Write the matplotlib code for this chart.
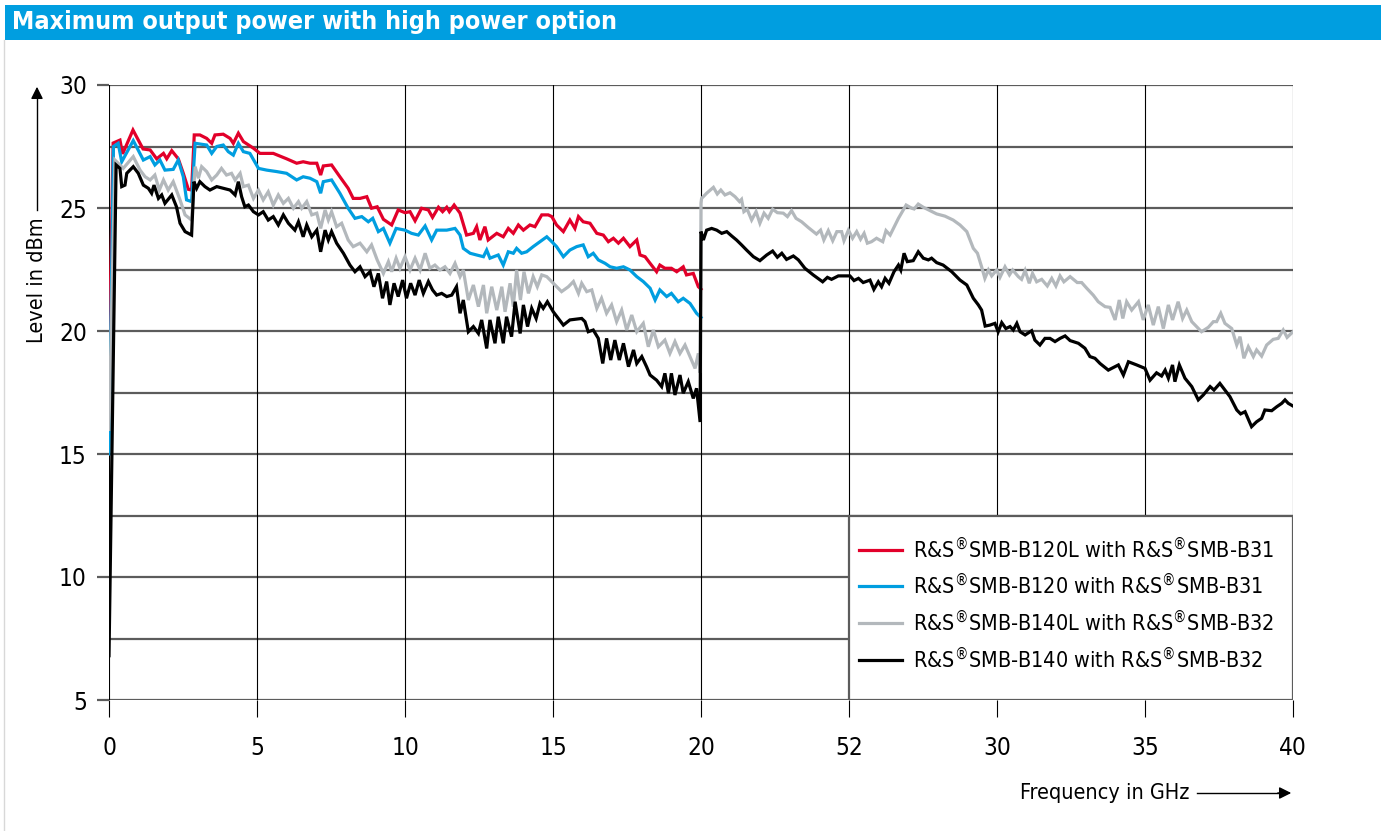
import matplotlib
matplotlib.use("Agg")
import matplotlib.pyplot as plt
from matplotlib.patches import Rectangle
from matplotlib.lines import Line2D

plt.rcParams['font.family'] = ['DejaVu Sans']
plt.rcParams['font.stretch'] = 'condensed'

# Datos: (frecuencia GHz, nivel dBm)
red_b120l = [
    (0.0, 18.5), (0.14, 27.64), (0.37, 27.76), (0.46, 27.2), (0.81, 28.17), (1.15, 27.4), (1.39, 27.36),
    (1.61, 27.0), (1.84, 27.22), (1.95, 27.0), (2.12, 27.33), (2.34, 27.0), (2.51, 26.41), (2.68, 25.76),
    (2.79, 25.73), (2.88, 27.97), (3.07, 27.97), (3.30, 27.83), (3.47, 27.63), (3.58, 27.97), (3.86, 28.0),
    (4.09, 27.83), (4.20, 27.63), (4.37, 28.04), (4.54, 27.7), (4.88, 27.43), (5.10, 27.22), (5.55, 27.22),
    (6.00, 27.0), (6.34, 26.82), (6.56, 26.88), (6.79, 26.82), (7.02, 26.82), (7.15, 26.34), (7.24, 26.71),
    (7.52, 26.75), (7.80, 26.27), (8.08, 25.8), (8.25, 25.39), (8.48, 25.39), (8.71, 25.46), (8.87, 24.99),
    (9.06, 25.05), (9.27, 24.54), (9.55, 24.31), (9.77, 24.92), (10.00, 24.81), (10.17, 24.85), (10.34, 24.48),
    (10.56, 24.99), (10.79, 24.92), (10.93, 24.62), (11.13, 25.03), (11.27, 24.85), (11.41, 25.03),
    (11.50, 24.85), (11.66, 25.12), (11.86, 24.79), (12.08, 23.9), (12.31, 23.97), (12.42, 24.24),
    (12.53, 23.7), (12.70, 24.24), (12.81, 23.7), (13.10, 23.97), (13.32, 23.83), (13.49, 24.17),
    (13.66, 23.97), (13.83, 24.31), (14.00, 24.1), (14.22, 24.31), (14.39, 24.24), (14.62, 24.72),
    (14.84, 24.72), (14.96, 24.65), (15.12, 24.31), (15.35, 24.04), (15.57, 24.51), (15.74, 24.17),
    (15.86, 24.65), (16.02, 24.44), (16.25, 24.38), (16.48, 23.97), (16.70, 23.9), (16.87, 23.63),
    (17.04, 23.77), (17.21, 23.57), (17.38, 23.77), (17.60, 23.43), (17.83, 23.7), (17.94, 23.09),
    (18.11, 23.02), (18.28, 22.75), (18.50, 22.41), (18.61, 22.68), (18.78, 22.55), (19.00, 22.55),
    (19.18, 22.41), (19.40, 22.61), (19.51, 22.28), (19.74, 22.34), (19.91, 21.8), (20.0, 21.7),
]

blue_b120 = [
    (0.0, 15.0), (0.15, 27.5), (0.31, 27.63), (0.43, 26.88), (0.82, 27.74), (1.16, 26.95), (1.39, 27.09),
    (1.55, 26.75), (1.72, 26.95), (1.89, 26.54), (2.17, 26.57), (2.34, 26.95), (2.51, 26.27), (2.62, 25.33),
    (2.79, 25.26), (2.91, 27.63), (3.30, 27.56), (3.47, 27.22), (3.64, 27.5), (3.86, 27.56), (4.03, 27.29),
    (4.20, 27.15), (4.37, 27.63), (4.54, 27.29), (4.76, 27.22), (5.05, 26.61), (5.33, 26.54), (5.67, 26.48),
    (6.00, 26.41), (6.34, 26.14), (6.56, 26.27), (6.79, 26.21), (7.02, 26.07), (7.15, 25.6), (7.24, 26.07),
    (7.52, 26.14), (7.80, 25.6), (8.08, 24.99), (8.31, 24.58), (8.54, 24.65), (8.76, 24.44), (8.91, 24.58),
    (9.10, 24.04), (9.27, 24.17), (9.49, 23.57), (9.70, 24.17), (10.00, 24.1), (10.22, 23.97), (10.45, 23.9),
    (10.68, 24.27), (10.90, 23.7), (11.07, 24.1), (11.41, 24.1), (11.69, 24.17), (11.86, 23.9),
    (11.97, 23.36), (12.20, 23.16), (12.42, 23.09), (12.65, 23.02), (12.76, 23.29), (12.87, 22.96),
    (13.15, 23.09), (13.32, 22.68), (13.49, 23.22), (13.66, 23.16), (13.77, 23.36), (13.94, 23.16),
    (14.11, 23.22), (14.33, 23.43), (14.56, 23.63), (14.79, 23.83), (14.96, 23.63), (15.12, 23.43),
    (15.35, 23.02), (15.57, 23.29), (15.80, 23.43), (16.02, 23.5), (16.19, 23.02), (16.36, 23.16),
    (16.53, 22.89), (16.76, 22.75), (16.93, 22.61), (17.15, 22.55), (17.38, 22.61), (17.60, 22.48),
    (17.83, 22.21), (18.05, 22.01), (18.28, 21.74), (18.45, 21.26), (18.61, 21.67), (18.84, 21.4),
    (19.00, 21.53), (19.23, 21.19), (19.40, 21.33), (19.63, 21.12), (19.85, 20.72), (20.0, 20.55),
]

gray_b140l = [
    (0.0, 16.0), (0.20, 26.95), (0.37, 26.75), (0.48, 26.61), (0.82, 27.09), (1.05, 26.54), (1.22, 26.27),
    (1.39, 26.14), (1.55, 26.34), (1.70, 25.73), (1.84, 26.14), (2.00, 25.73), (2.17, 26.07), (2.40, 25.33),
    (2.57, 24.72), (2.79, 24.51), (2.91, 26.68), (3.02, 26.21), (3.13, 26.68), (3.30, 26.48), (3.47, 26.14),
    (3.64, 26.34), (3.80, 26.61), (3.97, 26.34), (4.14, 26.41), (4.26, 26.14), (4.43, 26.41), (4.54, 25.87),
    (4.71, 25.93), (4.88, 25.39), (5.05, 25.73), (5.21, 25.33), (5.38, 25.66), (5.55, 25.12), (5.72, 25.53),
    (5.89, 25.19), (6.06, 25.39), (6.23, 24.99), (6.40, 25.26), (6.51, 24.99), (6.68, 25.26), (6.85, 24.72),
    (7.02, 24.79), (7.15, 24.17), (7.30, 24.92), (7.41, 24.51), (7.52, 24.85), (7.69, 24.24), (7.86, 24.38),
    (8.08, 23.7), (8.25, 23.43), (8.48, 23.57), (8.71, 23.22), (8.87, 23.5), (9.06, 22.89), (9.27, 22.34),
    (9.44, 22.82), (9.55, 22.41), (9.70, 22.96), (9.83, 22.55), (10.00, 23.02), (10.17, 22.48),
    (10.34, 22.96), (10.51, 22.48), (10.68, 23.16), (10.84, 22.55), (11.01, 22.68), (11.18, 22.48),
    (11.35, 22.61), (11.52, 22.34), (11.69, 22.75), (11.86, 22.21), (11.97, 22.48), (12.14, 21.26),
    (12.31, 21.87), (12.48, 20.99), (12.65, 21.87), (12.76, 20.72), (12.93, 21.8), (13.10, 20.85),
    (13.27, 21.8), (13.38, 20.78), (13.55, 21.94), (13.66, 20.99), (13.77, 22.48), (13.90, 21.26),
    (14.02, 22.41), (14.17, 21.53), (14.33, 22.21), (14.47, 21.8), (14.62, 22.28), (14.79, 22.21),
    (15.01, 21.94), (15.29, 21.6), (15.52, 21.8), (15.69, 22.01), (15.86, 21.53), (15.97, 21.94),
    (16.14, 21.6), (16.31, 21.67), (16.48, 20.92), (16.64, 21.33), (16.81, 20.72), (16.98, 21.06),
    (17.15, 20.38), (17.32, 20.85), (17.49, 20.04), (17.66, 20.65), (17.83, 19.97), (18.05, 20.31),
    (18.22, 19.36), (18.39, 20.04), (18.56, 19.36), (18.78, 19.63), (18.95, 19.09), (19.12, 19.57),
    (19.29, 19.09), (19.46, 19.43), (19.63, 18.96), (19.80, 18.48), (19.91, 19.09), (19.97, 18.3),
    (20.0, 25.2), (20.02, 25.39), (20.19, 25.6), (20.42, 25.84), (20.55, 25.57), (20.67, 25.73),
    (20.81, 25.53), (20.98, 25.62), (21.15, 25.46), (21.30, 25.26), (21.37, 25.35), (21.45, 24.85),
    (21.56, 24.95), (21.71, 24.51), (21.86, 24.85), (21.99, 24.38), (22.13, 24.79), (22.27, 24.58),
    (22.42, 24.95), (22.58, 24.81), (22.78, 24.79), (22.92, 24.65), (23.06, 24.89), (23.21, 24.58),
    (23.40, 24.44), (23.62, 24.21), (23.90, 23.94), (24.04, 24.1), (24.15, 23.7), (24.30, 24.08),
    (24.45, 23.67), (24.59, 24.04), (24.75, 24.04), (24.83, 23.67), (24.98, 24.1), (25.12, 23.77),
    (25.26, 24.04), (25.39, 23.73), (25.51, 23.97), (25.62, 23.57), (25.76, 23.63), (25.93, 23.77),
    (26.14, 23.63), (26.25, 24.08), (26.39, 23.9), (26.67, 24.58), (26.93, 25.12), (27.12, 24.99),
    (27.20, 24.96), (27.34, 25.16), (27.51, 25.03), (27.74, 24.89), (27.96, 24.76), (28.24, 24.67),
    (28.52, 24.51), (28.75, 24.31), (28.98, 24.04), (29.20, 23.36), (29.34, 23.16), (29.48, 22.61),
    (29.59, 22.14), (29.71, 22.48), (29.82, 22.24), (29.99, 22.48), (30.10, 22.18), (30.27, 22.61),
    (30.42, 22.28), (30.53, 22.48), (30.72, 22.21), (30.83, 22.1), (30.95, 22.46), (31.09, 21.94),
    (31.20, 22.34), (31.34, 22.0), (31.51, 22.1), (31.70, 21.83), (31.85, 22.14), (31.99, 21.83),
    (32.13, 22.24), (32.26, 22.0), (32.47, 22.21), (32.71, 21.97), (32.86, 21.97), (33.03, 21.74),
    (33.25, 21.46), (33.42, 21.19), (33.65, 20.99), (33.82, 20.96), (33.99, 20.45), (34.13, 21.26),
    (34.25, 20.51), (34.38, 21.19), (34.55, 20.85), (34.78, 21.19), (34.94, 20.45), (35.11, 21.06),
    (35.28, 20.24), (35.45, 20.99), (35.62, 20.1), (35.79, 21.06), (35.93, 20.45), (36.12, 21.19),
    (36.27, 20.51), (36.41, 20.85), (36.58, 20.38), (36.91, 19.97), (37.14, 20.15), (37.31, 20.38),
    (37.42, 20.38), (37.56, 20.72), (37.70, 20.31), (37.93, 20.1), (38.10, 19.43), (38.21, 19.77),
    (38.34, 18.89), (38.49, 19.36), (38.66, 18.96), (38.77, 19.23), (38.94, 18.98), (39.11, 19.43),
    (39.33, 19.66), (39.50, 19.7), (39.67, 20.04), (39.80, 19.74), (40.0, 19.97),
]

black_b140 = [
    (0.0, 6.8), (0.24, 26.75), (0.37, 26.61), (0.43, 25.87), (0.54, 25.93), (0.60, 26.41), (0.82, 26.68),
    (0.99, 26.41), (1.16, 25.93), (1.33, 25.8), (1.44, 25.6), (1.52, 25.93), (1.67, 25.39), (1.78, 25.53),
    (1.89, 25.19), (2.12, 25.53), (2.28, 25.05), (2.40, 24.38), (2.57, 24.04), (2.79, 23.9), (2.87, 26.07),
    (2.96, 25.8), (3.07, 26.07), (3.24, 25.87), (3.41, 25.73), (3.64, 25.87), (3.86, 25.8), (4.09, 25.73),
    (4.26, 25.53), (4.37, 26.07), (4.48, 25.46), (4.59, 25.05), (4.71, 25.12), (4.88, 24.85), (5.05, 24.72),
    (5.21, 24.85), (5.38, 24.51), (5.55, 24.65), (5.72, 24.31), (5.89, 24.72), (6.06, 24.38), (6.28, 24.1),
    (6.40, 24.44), (6.56, 23.83), (6.68, 24.31), (6.85, 23.83), (7.02, 24.1), (7.15, 23.22), (7.30, 24.1),
    (7.41, 23.7), (7.52, 24.04), (7.69, 23.57), (7.92, 23.16), (8.14, 22.68), (8.31, 22.41), (8.48, 22.61),
    (8.65, 22.21), (8.82, 22.41), (8.95, 21.8), (9.10, 22.34), (9.24, 21.33), (9.38, 22.01), (9.49, 21.06),
    (9.63, 21.94), (9.77, 21.4), (9.92, 22.07), (10.05, 21.33), (10.19, 21.94), (10.34, 21.46),
    (10.48, 22.07), (10.62, 21.53), (10.79, 22.01), (10.93, 21.67), (11.07, 21.46), (11.24, 21.53),
    (11.41, 21.4), (11.58, 21.46), (11.74, 21.8), (11.86, 20.72), (11.97, 21.26), (12.14, 19.97),
    (12.31, 20.18), (12.48, 19.9), (12.59, 20.45), (12.76, 19.29), (12.87, 20.45), (13.04, 19.5),
    (13.15, 20.58), (13.32, 19.5), (13.43, 20.58), (13.60, 19.77), (13.72, 21.19), (13.89, 19.9),
    (14.00, 21.06), (14.14, 20.18), (14.28, 20.92), (14.43, 20.51), (14.56, 21.12), (14.67, 20.92),
    (14.81, 21.19), (15.01, 20.78), (15.35, 20.24), (15.57, 20.45), (15.97, 20.51), (16.08, 20.38),
    (16.19, 19.97), (16.36, 20.04), (16.53, 19.7), (16.68, 18.68), (16.81, 19.7), (16.95, 18.82),
    (17.09, 19.63), (17.24, 18.82), (17.38, 19.5), (17.55, 18.55), (17.72, 19.23), (17.83, 18.68),
    (18.00, 18.96), (18.16, 18.55), (18.28, 18.21), (18.50, 18.0), (18.67, 17.74), (18.78, 18.28),
    (18.90, 17.47), (19.00, 18.28), (19.12, 17.4), (19.29, 18.21), (19.40, 17.47), (19.57, 17.94),
    (19.74, 17.26), (19.85, 17.67), (19.97, 16.3), (20.0, 24.04), (20.08, 23.7), (20.19, 24.1),
    (20.36, 24.17), (20.53, 24.1), (20.70, 23.97), (20.87, 24.04), (21.04, 23.86), (21.20, 23.7),
    (21.37, 23.5), (21.54, 23.29), (21.77, 23.02), (21.99, 22.86), (22.22, 23.09), (22.42, 23.25),
    (22.58, 23.0), (22.73, 23.16), (22.89, 22.91), (23.12, 23.05), (23.29, 22.89), (23.51, 22.55),
    (23.79, 22.28), (24.11, 22.0), (24.27, 22.18), (24.41, 22.1), (24.64, 22.24), (25.03, 22.24),
    (25.17, 22.05), (25.32, 22.14), (25.48, 21.97), (25.71, 22.07), (25.84, 21.69), (25.99, 22.0),
    (26.10, 21.8), (26.22, 22.14), (26.35, 21.94), (26.52, 22.41), (26.67, 22.68), (26.75, 22.48),
    (26.86, 23.16), (26.97, 22.82), (27.17, 22.86), (27.34, 23.22), (27.51, 22.96), (27.68, 22.89),
    (27.79, 22.96), (27.96, 22.78), (28.18, 22.68), (28.47, 22.41), (28.75, 22.07), (28.98, 21.87),
    (29.20, 21.33), (29.37, 21.06), (29.48, 20.85), (29.60, 20.2), (29.76, 20.24), (29.93, 20.31),
    (30.04, 19.97), (30.16, 20.34), (30.30, 20.1), (30.44, 20.18), (30.55, 20.04), (30.67, 20.31),
    (30.78, 19.97), (30.95, 19.84), (31.17, 20.01), (31.28, 19.63), (31.45, 19.43), (31.62, 19.7),
    (31.79, 19.7), (31.96, 19.57), (32.13, 19.7), (32.30, 19.8), (32.47, 19.61), (32.75, 19.5),
    (32.97, 19.3), (33.14, 18.96), (33.31, 18.89), (33.48, 18.68), (33.76, 18.41), (33.99, 18.55),
    (34.10, 18.62), (34.27, 18.21), (34.44, 18.75), (34.72, 18.62), (35.00, 18.48), (35.17, 18.0),
    (35.39, 18.3), (35.56, 18.17), (35.68, 18.41), (35.79, 18.08), (35.93, 18.62), (36.01, 17.94),
    (36.16, 18.62), (36.35, 18.08), (36.58, 17.74), (36.80, 17.2), (36.97, 17.4), (37.20, 17.74),
    (37.33, 17.6), (37.53, 17.87), (37.70, 17.6), (37.87, 17.33), (38.10, 16.79), (38.23, 16.63),
    (38.38, 16.72), (38.60, 16.11), (38.77, 16.31), (38.94, 16.45), (39.05, 16.79), (39.28, 16.76),
    (39.45, 16.92), (39.62, 17.06), (39.73, 17.2), (39.84, 17.06), (40.0, 16.95),
]

series_labels = [
    "R&S$^{®}$SMB-B120L with R&S$^{®}$SMB-B31",
    "R&S$^{®}$SMB-B120 with R&S$^{®}$SMB-B31",
    "R&S$^{®}$SMB-B140L with R&S$^{®}$SMB-B32",
    "R&S$^{®}$SMB-B140 with R&S$^{®}$SMB-B32",
]
series_colors = ['#e2002a', '#009ee0', '#b3b8bc', '#000000']
x_ticks = [0, 5, 10, 15, 20, 25, 30, 35, 40]
x_tick_labels = ['0', '5', '10', '15', '20', '52', '30', '35', '40']
y_ticks = [5, 10, 15, 20, 25, 30]

grid_gris = '#5c5c5c'

fig = plt.figure(figsize=(13.81, 8.31), dpi=100)
fig.patch.set_facecolor('white')

# barra de titulo
fig.patches.append(Rectangle((5 / 1381, 1 - 40 / 831), 1, 35 / 831, transform=fig.transFigure,
                             facecolor='#009ee0', edgecolor='none'))
fig.text(12 / 1381, 1 - 22 / 831, "Maximum output power with high power option", color='white',
         fontsize=18, fontweight='bold', va='center', ha='left')
fig.add_artist(Line2D([4 / 1381, 4 / 1381], [0, 1 - 40 / 831], transform=fig.transFigure,
                      color='#d8d8d8', lw=1))

ax = fig.add_axes([109 / 1381, 1 - 700 / 831, 1184 / 1381, 615 / 831])
ax.set_xlim(0, 40)
ax.set_ylim(5, 30)
for s in ax.spines.values():
    s.set_visible(False)

# rejilla
for y in [5 + 2.5 * i for i in range(11)]:
    ax.axhline(y, color=grid_gris, lw=1.6, zorder=1)
for x in x_ticks:
    ax.axvline(x, color='black', lw=0.8, zorder=1)

ax.set_xticks(x_ticks)
ax.set_xticklabels(x_tick_labels)
ax.set_yticks(y_ticks)
ax.tick_params(axis='x', direction='out', length=12, width=0.8, color='black', pad=14, labelsize=17.5)
ax.tick_params(axis='y', direction='out', length=9, width=1.6, color=grid_gris, pad=7, labelsize=17.5)

# curvas
handles = []
for datos, color, etiqueta in zip([red_b120l, blue_b120, gray_b140l, black_b140], series_colors, series_labels):
    f = [p[0] for p in datos]
    nivel = [p[1] for p in datos]
    h, = ax.plot(f, nivel, color=color, lw=2.3, label=etiqueta, zorder=3, solid_joinstyle='miter')
    handles.append(h)

# caja de la leyenda
ax.add_patch(Rectangle((25, 5), 15, 7.5, facecolor='white', edgecolor=grid_gris, lw=1.6, zorder=2))
leg = ax.legend(handles=handles, loc='upper left', bbox_to_anchor=(25.35, 11.7),
                bbox_transform=ax.transData, frameon=False, fontsize=15.5, handlelength=2.0,
                handletextpad=0.5, labelspacing=0.5, borderaxespad=0, borderpad=0)
leg.set_zorder(4)

# etiquetas de ejes con flechas
fig.text(37 / 1381, 1 - 280 / 831, "Level in dBm", rotation=90, fontsize=15.5, ha='center', va='center')
fig.add_artist(Line2D([37 / 1381, 37 / 1381], [1 - 210 / 831, 1 - 95 / 831], transform=fig.transFigure,
                      color='black', lw=1))
ax.annotate('', xy=(37 / 1381, 1 - 84 / 831), xytext=(37 / 1381, 1 - 100 / 831), xycoords='figure fraction',
            arrowprops=dict(arrowstyle='-|>', color='black', lw=1, mutation_scale=18))
fig.text(1190 / 1381, 1 - 793 / 831, "Frequency in GHz", fontsize=15.5, ha='right', va='center')
fig.add_artist(Line2D([1197 / 1381, 1280 / 1381], [1 - 793 / 831, 1 - 793 / 831], transform=fig.transFigure,
                      color='black', lw=1))
ax.annotate('', xy=(1294 / 1381, 1 - 793 / 831), xytext=(1275 / 1381, 1 - 793 / 831),
            xycoords='figure fraction',
            arrowprops=dict(arrowstyle='-|>', color='black', lw=1, mutation_scale=18))

fig.savefig('out.png', dpi=100, facecolor='white')
